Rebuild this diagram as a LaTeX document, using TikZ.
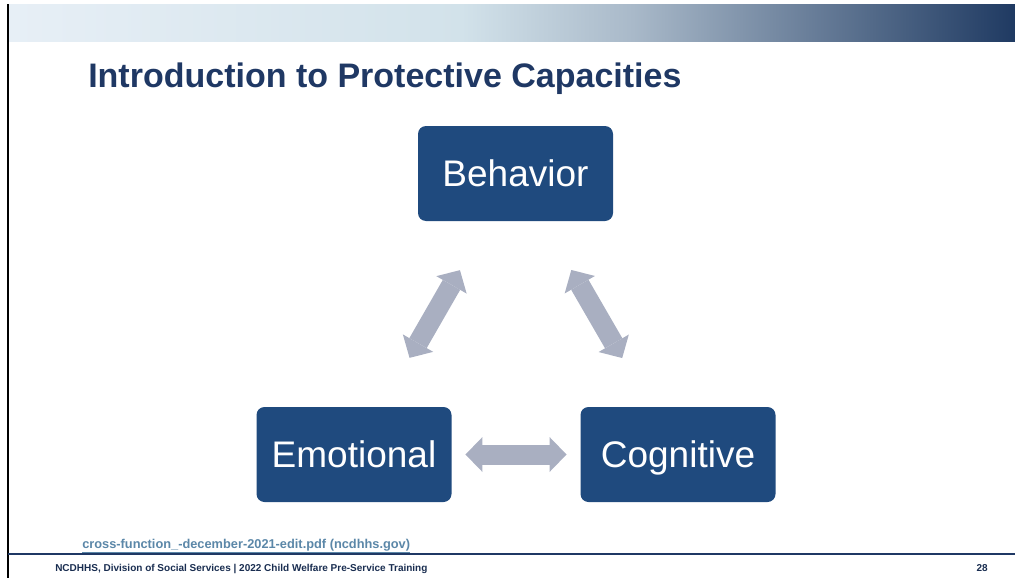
\documentclass[tikz,border=0pt]{standalone}
\usepackage{fontspec}
\setmainfont{Liberation Sans}
\usetikzlibrary{arrows.meta}
\definecolor{navy}{HTML}{1F3864}
\definecolor{boxblue}{HTML}{1F4A7E}
\definecolor{arrowgray}{HTML}{A9AFC1}
\definecolor{linkblue}{HTML}{5B87A8}
\definecolor{barlight}{HTML}{E7EFF6}
\definecolor{barmid}{HTML}{D2E2EA}
\definecolor{barmid2}{HTML}{A9B9C9}
\definecolor{bardark}{HTML}{1F3A62}
\pgfdeclarehorizontalshading{topbar}{100bp}{color(0bp)=(barlight); color(25bp)=(barlight); color(47.5bp)=(barmid); color(56bp)=(barmid2); color(75bp)=(bardark); color(100bp)=(bardark)}

\begin{document}
\begin{tikzpicture}[x=0.75pt, y=-0.75pt,
    box/.style={fill=boxblue, rounded corners=6pt, minimum width=146.25pt, minimum height=71.25pt,
      inner sep=0pt, text=white, font=\fontsize{27.75}{32}\selectfont, text height=20pt, text depth=0pt},
    link/.style={arrowgray, line width=15pt, {Triangle[length=12.75pt, width=26.25pt, line width=0pt]}-{Triangle[length=12.75pt, width=26.25pt, line width=0pt]},
      shorten <=83.6pt, shorten >=83.6pt}]
    \useasboundingbox (0,0) rectangle (1015,578);
    % slide frame
    \shade[shading=topbar] (9,4) rectangle (1015,41);
    \draw[line width=1.5pt] (8,4) -- (8,578);
    \draw[navy, line width=1.5pt] (8,554) -- (1015,554);
    \node[anchor=base west, inner sep=0pt, text=navy, font=\bfseries\fontsize{25.5}{30}\selectfont] (title) at (88,87)
      {Introduction to Protective Capacities};
    % the three capacities
    \node[box] (beh) at (515.5,173.5) {Behavior};
    \node[box] (emo) at (354,454.5) {Emotional};
    \node[box] (cog) at (678,454.5) {Cognitive};
    \draw[link] (beh.center) -- (emo.center);
    \draw[link] (beh.center) -- (cog.center);
    \draw[link] (emo.center) -- (cog.center);
    % source and footer
    \node[anchor=base west, inner sep=0pt, text=linkblue, font=\bfseries\fontsize{9.6}{11}\selectfont] (src) at (82,548)
      {\underline{cross-function\_-december-2021-edit.pdf (ncdhhs.gov)}};
    \node[anchor=base west, inner sep=0pt, text=navy!80!black, font=\bfseries\fontsize{7.5}{9}\selectfont] (foot) at (55,571)
      {NCDHHS, Division of Social Services | 2022 Child Welfare Pre-Service Training};
    \node[anchor=base east, inner sep=0pt, text=navy!80!black, font=\bfseries\fontsize{7.5}{9}\selectfont] (page) at (988,571) {28};
\end{tikzpicture}
\end{document}
